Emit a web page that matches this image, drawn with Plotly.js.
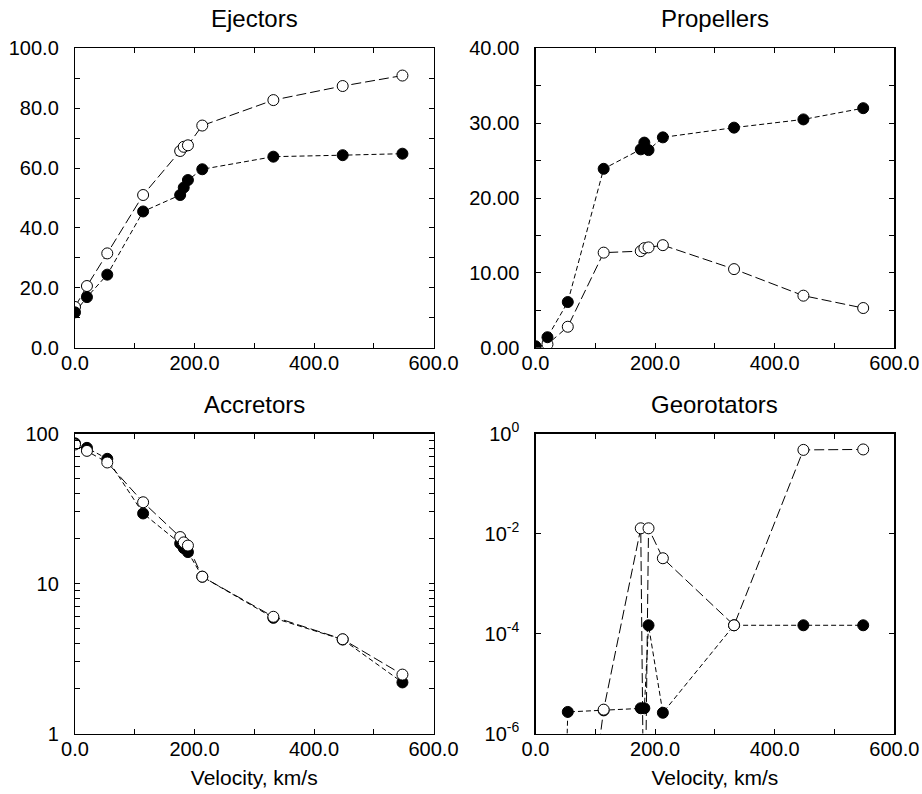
<!DOCTYPE html>
<html>
<head>
<meta charset="utf-8">
<script src="https://cdn.plot.ly/plotly-3.0.1.min.js"></script>
<style>html,body{margin:0;padding:0;background:#fff;}#chart{width:922px;height:794px;}</style>
</head>
<body>
<div id="chart"></div>
<script>
// Velocities (km/s)
const velocity = [0, 20, 54, 114, 176, 182, 189, 213, 332, 448, 548];

// Ejectors
const ejectorsFilled = [11.8, 16.9, 24.4, 45.5, 51.0, 53.5, 56.0, 59.6, 63.8, 64.3, 64.8];
const ejectorsOpen   = [13.6, 20.6, 31.5, 51.0, 65.7, 67.1, 67.6, 74.2, 82.7, 87.4, 90.9];

// Propellers
const propellersFilled = [0.2, 1.4, 6.1, 23.9, 26.5, 27.4, 26.4, 28.1, 29.4, 30.5, 32.0];
const propellersOpen   = [0.1, 0.45, 2.8, 12.7, 12.9, 13.3, 13.4, 13.7, 10.5, 6.95, 5.3];

// Accretors
const accretorsFilled = [86, 80.2, 67.8, 29.3, 18.5, 17.2, 16.2, 11.1, 5.9, 4.23, 2.19];
const accretorsOpen   = [84.5, 76.6, 64.1, 34.8, 20.4, 18.8, 17.9, 11.1, 6.0, 4.25, 2.47];

// Georotators (off-scale values are far below the axis range)
const georotatorsFilled = [1e-20, 1e-20, 2.7e-6, 2.9e-6, 3.2e-6, 3.2e-6, 1.46e-4, 2.6e-6, 1.46e-4, 1.46e-4, 1.46e-4];
const georotatorsOpen   = [1e-12, 1e-12, 1e-11, 3.0e-6, 1.27e-2, 1e-9, 1.27e-2, 3.2e-3, 1.46e-4, 0.47, 0.48];

const panelTitles = ["Ejectors", "Propellers", "Accretors", "Georotators"];
const xTickVals = [0, 200, 400, 600];
const xTickText = ["0.0", "200.0", "400.0", "600.0"];
const xAxisTitle = "Velocity, km/s";

const FONT = "Liberation Sans, Arial, Helvetica, sans-serif";

function filledTrace(y, xa, ya) {
  return {x: velocity, y: y, xaxis: xa, yaxis: ya, type: "scatter", mode: "lines+markers",
    line: {color: "#000", width: 1, dash: "5px,3px"},
    marker: {symbol: "circle", size: 11, color: "#000", line: {color: "#000", width: 1}},
    showlegend: false, hoverinfo: "x+y"};
}
function openTrace(y, xa, ya) {
  return {x: velocity, y: y, xaxis: xa, yaxis: ya, type: "scatter", mode: "lines+markers",
    line: {color: "#000", width: 1, dash: "10px,4px"},
    marker: {symbol: "circle", size: 11, color: "#fff", line: {color: "#000", width: 1}},
    showlegend: false, hoverinfo: "x+y"};
}

const data = [
  openTrace(ejectorsOpen, "x", "y"), filledTrace(ejectorsFilled, "x", "y"),
  openTrace(propellersOpen, "x2", "y2"), filledTrace(propellersFilled, "x2", "y2"),
  filledTrace(accretorsFilled, "x3", "y3"), openTrace(accretorsOpen, "x3", "y3"),
  filledTrace(georotatorsFilled, "x4", "y4"), openTrace(georotatorsOpen, "x4", "y4")
];

const W = 922, H = 794;
const colDom = [[75 / W, 433.5 / W], [535.5 / W, 894.3 / W]];
const rowDom = [[1 - 347.7 / H, 1 - 48.3 / H], [1 - 733.5 / H, 1 - 433.5 / H]];

const common = {
  showline: true, linecolor: "#000", linewidth: 1.2, mirror: "allticks",
  ticks: "inside", ticklen: 5, tickwidth: 1, tickcolor: "#000",
  showgrid: false, zeroline: false, fixedrange: true,
  tickfont: {family: FONT, size: 20, color: "#000"}
};

function xAxis(col, anchor, withTitle) {
  const a = Object.assign({}, common, {
    domain: colDom[col], anchor: anchor, range: [0, 600],
    tickmode: "array", tickvals: xTickVals, ticktext: xTickText,
    minor: {tickvals: [100, 300, 500], ticks: "inside", ticklen: 5, tickcolor: "#000", showgrid: false},
    ticklabelstandoff: -3
  });
  if (withTitle) a.title = {text: xAxisTitle, font: {family: FONT, size: 21, color: "#000"}, standoff: 11};
  return a;
}

const layout = {
  width: W, height: H,
  margin: {l: 0, r: 0, t: 0, b: 0},
  paper_bgcolor: "#fff", plot_bgcolor: "#fff",
  font: {family: FONT, color: "#000"},
  showlegend: false,
  xaxis: xAxis(0, "y", false),
  xaxis2: xAxis(1, "y2", false),
  xaxis3: xAxis(0, "y3", true),
  xaxis4: xAxis(1, "y4", true),
  yaxis: Object.assign({}, common, {
    domain: rowDom[0], anchor: "x", range: [0, 100],
    tickmode: "array", tickvals: [0, 20, 40, 60, 80, 100],
    ticktext: ["0.0", "20.0", "40.0", "60.0", "80.0", "100.0"],
    minor: {tickvals: [10, 30, 50, 70, 90], ticks: "inside", ticklen: 5, tickcolor: "#000", showgrid: false},
    ticklabelstandoff: 11
  }),
  yaxis2: Object.assign({}, common, {
    domain: rowDom[0], anchor: "x2", range: [0, 40],
    tickmode: "array", tickvals: [0, 10, 20, 30, 40],
    ticktext: ["0.00", "10.00", "20.00", "30.00", "40.00"],
    minor: {tickvals: [5, 15, 25, 35], ticks: "inside", ticklen: 5, tickcolor: "#000", showgrid: false},
    ticklabelstandoff: 11
  }),
  yaxis3: Object.assign({}, common, {
    domain: rowDom[1], anchor: "x3", type: "log", range: [0, 2],
    tickmode: "array", tickvals: [1, 10, 100], ticktext: ["1", "10", "100"],
    minor: {tickvals: [2, 3, 4, 5, 6, 7, 8, 9, 20, 30, 40, 50, 60, 70, 80, 90], ticks: "inside", ticklen: 5, tickcolor: "#000", showgrid: false},
    ticklabelstandoff: 11
  }),
  yaxis4: Object.assign({}, common, {
    domain: rowDom[1], anchor: "x4", type: "log", range: [-6, 0],
    tickmode: "array", tickvals: [1e-6, 1e-4, 1e-2, 1],
    ticktext: ["10<sup>-6</sup>", "10<sup>-4</sup>", "10<sup>-2</sup>", "10<sup>0</sup>"],
    ticklabelstandoff: 11
  }),
  annotations: panelTitles.map(function (t, i) {
    const col = i % 2, row = Math.floor(i / 2);
    return {
      text: t, xref: "paper", yref: "paper",
      x: (colDom[col][0] + colDom[col][1]) / 2,
      y: row === 0 ? 1 - 18 / H : 1 - 404 / H,
      xanchor: "center", yanchor: "middle", showarrow: false,
      font: {family: FONT, size: 24, color: "#000"}
    };
  })
};

Plotly.newPlot("chart", data, layout, {displayModeBar: false, staticPlot: true});
</script>
</body>
</html>
